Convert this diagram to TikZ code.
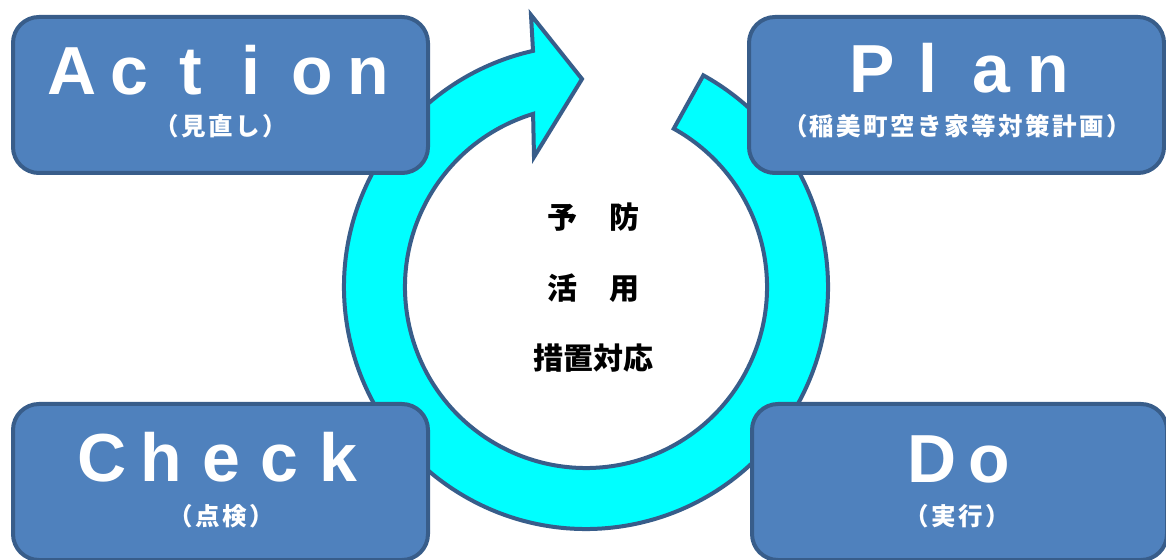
\documentclass[tikz,border=0pt]{standalone}
\usepackage{fontspec}
\setmainfont{Liberation Sans}
\newfontfamily\jp{Noto Sans CJK JP}
\newfontfamily\jpsp{Noto Sans CJK JP}[LetterSpace=10]
\definecolor{boxfill}{HTML}{4F81BD}
\definecolor{boxline}{HTML}{385D8A}
\definecolor{ringfill}{HTML}{00FFFF}
\newcommand\glyphat[2]{\makebox[0pt][l]{\hspace*{#1pt}\makebox[0pt][c]{#2}}}
\begin{document}
\begin{tikzpicture}[x=1pt,y=1pt,
  pdcabox/.style={draw=boxline, fill=boxfill, line width=4pt, rounded corners=26pt,
    minimum width=415pt, minimum height=156pt, inner sep=0pt},
  ttl/.style={text=white, font=\fontsize{68}{68}\selectfont\bfseries, inner sep=0pt, anchor=base west},
  sub/.style={text=white, font=\jpsp\fontsize{24.5}{24.5}\selectfont\bfseries, inner sep=0pt, anchor=base},
  ctr/.style={text=black, font=\jp\fontsize{30}{30}\selectfont\bfseries, inner sep=0pt, anchor=base},
  ring/.style={draw=boxline, fill=ringfill, line width=4pt, line join=miter}]
\useasboundingbox (0,0) rectangle (1166,559);
\fill[white] (0,0) rectangle (1166,559);
\coordinate (c) at (586,272);
\coordinate (hw1) at (531,544);
\coordinate (tip) at (582,480);
\coordinate (hw2) at (534,402);
\draw[ring] ([shift={(61:242)}]c) arc[start angle=61, end angle=-257.35, radius=242]
  -- (hw1) -- (tip) -- (hw2) -- ([shift={(107:181)}]c)
  arc[start angle=-253, end angle=61, radius=181] -- cycle;

\node[pdcabox] (action) at (220.5,464) {};
\node[pdcabox] (plan) at (956.5,464) {};
\node[pdcabox] (check) at (220.5,77) {};
\node[pdcabox] (do) at (959.5,77) {};

\node[ttl] (actiont) at (13,464) {\glyphat{58}{A}\glyphat{115.5}{c}\glyphat{177}{t}\glyphat{237}{i}\glyphat{299}{o}\glyphat{354.5}{n}};
\node[ttl] (plant) at (749,466) {\glyphat{122.5}{P}\glyphat{178}{l}\glyphat{242}{a}\glyphat{298.5}{n}};
\node[ttl] (checkt) at (13,77) {\glyphat{88}{C}\glyphat{148}{h}\glyphat{208}{e}\glyphat{266}{c}\glyphat{324.5}{k}};
\node[ttl] (dot) at (752,76) {\glyphat{179.5}{D}\glyphat{236.5}{o}};

\node[sub] (actions) at (221,423) {（見直し）};
\node[sub] (plans) at (957,423) {（稲美町空き家等対策計画）};
\node[sub] (checks) at (221,34) {（点検）};
\node[sub] (dos) at (957,34) {（実行）};

\node[ctr] (c1) at (593.5,330) {予\hspace*{32.5pt}防};
\node[ctr] (c2) at (593.5,259) {活\hspace*{32.5pt}用};
\node[ctr] (c3) at (593.5,189) {措置対応};
\end{tikzpicture}
\end{document}
